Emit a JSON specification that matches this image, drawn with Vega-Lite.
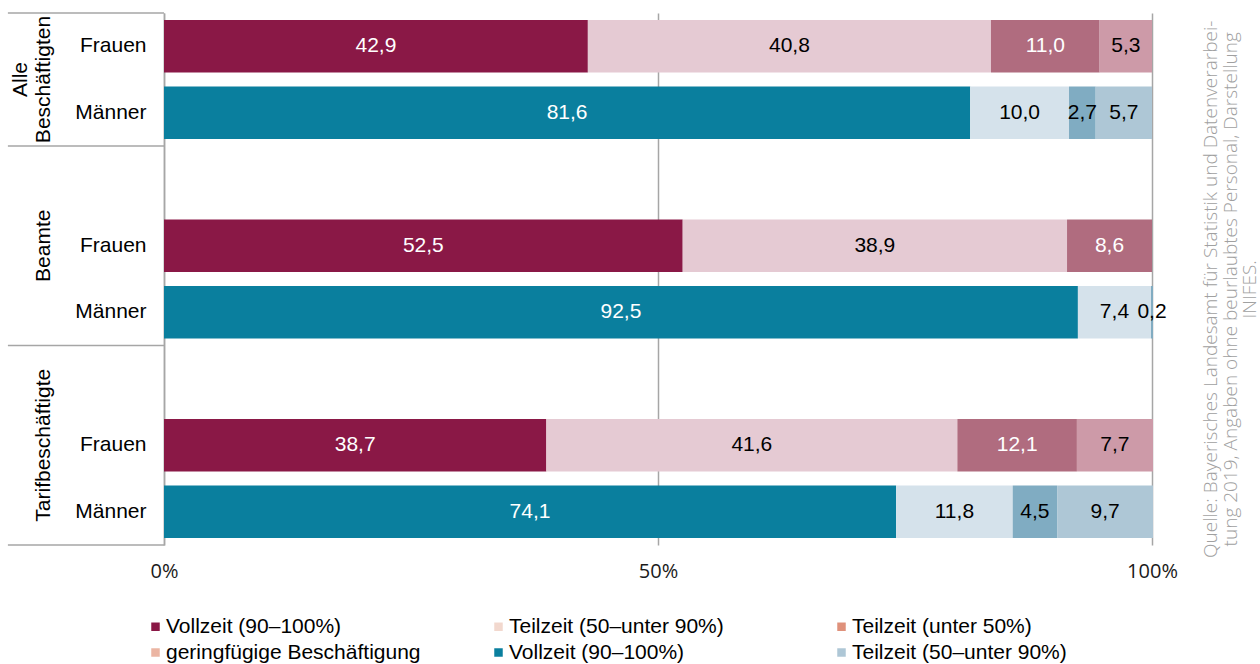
{
  "$schema": "https://vega.github.io/schema/vega-lite/v6.json",
  "width": 988,
  "height": 532,
  "autosize": {"type": "none"},
  "padding": {"left": 164, "top": 13, "right": 108, "bottom": 119},
  "config": {
    "view": {"stroke": null},
    "font": "Liberation Sans",
    "locale": {"number": {"decimal": ",", "thousands": ".", "grouping": [3], "currency": ["", " €"]}}
  },
  "resolve": {"scale": {"y": "independent"}, "axis": {"y": "independent"}},
  "layer": [
    {
      "data": {
        "values": [
          {"row": "A_F", "k": "F1", "value": 42.9},
          {"row": "A_F", "k": "F2", "value": 40.8},
          {"row": "A_F", "k": "F3", "value": 11.0},
          {"row": "A_F", "k": "F4", "value": 5.3},
          {"row": "A_M", "k": "M1", "value": 81.6},
          {"row": "A_M", "k": "M2", "value": 10.0},
          {"row": "A_M", "k": "M3", "value": 2.7},
          {"row": "A_M", "k": "M4", "value": 5.7},
          {"row": "B_F", "k": "F1", "value": 52.5},
          {"row": "B_F", "k": "F2", "value": 38.9},
          {"row": "B_F", "k": "F3", "value": 8.6},
          {"row": "B_M", "k": "M1", "value": 92.5},
          {"row": "B_M", "k": "M2", "value": 7.4},
          {"row": "B_M", "k": "M3", "value": 0.2},
          {"row": "T_F", "k": "F1", "value": 38.7},
          {"row": "T_F", "k": "F2", "value": 41.6},
          {"row": "T_F", "k": "F3", "value": 12.1},
          {"row": "T_F", "k": "F4", "value": 7.7},
          {"row": "T_M", "k": "M1", "value": 74.1},
          {"row": "T_M", "k": "M2", "value": 11.8},
          {"row": "T_M", "k": "M3", "value": 4.5},
          {"row": "T_M", "k": "M4", "value": 9.7}
        ]
      },
      "encoding": {
        "y": {
          "field": "row",
          "type": "nominal",
          "scale": {
            "domain": ["A_F", "A_M", "B_0", "B_F", "B_M", "T_0", "T_F", "T_M"],
            "paddingInner": 0.21,
            "paddingOuter": 0.105
          },
          "axis": {
            "title": null,
            "ticks": false,
            "domain": true,
            "domainColor": "#a6a6a6",
            "domainWidth": 1.5,
            "labelFontSize": 21,
            "labelColor": "#000000",
            "labelPadding": 18,
            "labelExpr": "slice(datum.value, 2) == 'F' ? 'Frauen' : slice(datum.value, 2) == 'M' ? 'Männer' : ''"
          }
        },
        "x": {
          "field": "value",
          "type": "quantitative",
          "stack": "zero",
          "scale": {"domain": [0, 100], "nice": false},
          "axis": {
            "title": null,
            "values": [0, 50, 100],
            "domain": false,
            "ticks": false,
            "grid": true,
            "gridColor": "#a6a6a6",
            "gridWidth": 1.5,
            "labelFont": "Open Sans",
            "labelFontSize": 20,
            "labelColor": "#1a1a1a",
            "labelPadding": 16,
            "labelFlush": false,
            "labelExpr": "datum.value + '%'"
          }
        },
        "order": {"field": "k"}
      },
      "layer": [
        {
          "transform": [{"filter": {"field": "k", "oneOf": ["F1", "F2", "F3", "F4", "M1", "M2"]}}],
          "mark": {"type": "square", "opacity": 1, "size": 64},
          "encoding": {
            "x": {"datum": 50, "type": "quantitative", "scale": {"domain": [0, 100], "nice": false}},
            "fill": {
              "field": "k",
              "type": "nominal",
              "scale": {
                "domain": ["F1", "F2", "F3", "F4", "M1", "M2"],
                "range": ["#8a1846", "#f2d8ce", "#df917b", "#ebb5a3", "#0a7f9e", "#aec7d6"]
              },
              "legend": {
                "title": null,
                "orient": "none",
                "legendX": -19,
                "legendY": 603,
                "direction": "horizontal",
                "columns": 3,
                "gridAlign": "all",
                "columnPadding": 67,
                "rowPadding": 4,
                "padding": 0,
                "symbolType": "square",
                "symbolSize": 72,
                "symbolStrokeWidth": 0,
                "labelFontSize": 21,
                "labelColor": "#000000",
                "labelOffset": 0,
                "labelLimit": 400,
                "labelExpr": "datum.value == 'F1' ? 'Vollzeit (90–100%)' : datum.value == 'F2' ? 'Teilzeit (50–unter 90%)' : datum.value == 'F3' ? 'Teilzeit (unter 50%)' : datum.value == 'F4' ? 'geringfügige Beschäftigung' : datum.value == 'M1' ? 'Vollzeit (90–100%)' : 'Teilzeit (50–unter 90%)'"
              }
            }
          }
        },
        {
          "mark": {"type": "bar"},
          "encoding": {
            "color": {
              "field": "k",
              "type": "nominal",
              "scale": {
                "domain": ["F1", "F2", "F3", "F4", "M1", "M2", "M3", "M4"],
                "range": ["#8a1846", "#e5cad3", "#b06c7f", "#cd9aa8", "#0a7f9e", "#d5e2eb", "#80acc2", "#aec7d6"]
              },
              "legend": null
            }
          }
        },
        {
          "mark": {"type": "text", "fontSize": 21, "align": "center", "baseline": "middle"},
          "encoding": {
            "x": {
              "field": "value",
              "type": "quantitative",
              "stack": "zero",
              "bandPosition": 0.5,
              "scale": {"domain": [0, 100], "nice": false}
            },
            "detail": {"field": "k"},
            "text": {"field": "value", "type": "quantitative", "format": ".1f"},
            "color": {
              "condition": {"test": "datum.k == 'F1' || datum.k == 'F3' || datum.k == 'M1'", "value": "#ffffff"},
              "value": "#000000"
            }
          }
        }
      ]
    },
    {
      "layer": [
        {
          "data": {"values": [{"pos": 0}, {"pos": 2}, {"pos": 5}, {"pos": 8}]},
          "mark": {"type": "rule", "color": "#a6a6a6", "strokeWidth": 1.5},
          "encoding": {
            "y": {"field": "pos", "type": "quantitative", "scale": {"domain": [0, 8], "reverse": true, "nice": false, "zero": false}, "axis": null},
            "x": {"datum": -15.8, "type": "quantitative", "scale": {"domain": [0, 100], "nice": false}},
            "x2": {"datum": 0}
          }
        },
        {
          "data": {
            "values": [
              {"gruppe": "Beamte", "pos": 3.5},
              {"gruppe": "Tarifbeschäftigte", "pos": 6.5}
            ]
          },
          "mark": {"type": "text", "angle": 270, "align": "center", "baseline": "bottom", "fontSize": 21, "color": "#000000"},
          "encoding": {
            "y": {"field": "pos", "type": "quantitative", "scale": {"domain": [0, 8], "reverse": true, "nice": false, "zero": false}, "axis": null},
            "x": {"datum": -11.1, "type": "quantitative", "scale": {"domain": [0, 100], "nice": false}},
            "text": {"field": "gruppe", "type": "nominal"}
          }
        },
        {
          "data": {
            "values": [
              {"gruppe": "Alle\nBeschäftigten", "pos": 1}
            ]
          },
          "mark": {"type": "text", "angle": 270, "align": "center", "baseline": "bottom", "lineBreak": "\n", "lineHeight": 23, "fontSize": 21, "color": "#000000"},
          "encoding": {
            "y": {"field": "pos", "type": "quantitative", "scale": {"domain": [0, 8], "reverse": true, "nice": false, "zero": false}, "axis": null},
            "x": {"datum": -13.45, "type": "quantitative", "scale": {"domain": [0, 100], "nice": false}},
            "text": {"field": "gruppe", "type": "nominal"}
          }
        },
        {
          "data": {
            "values": [
              {"quelle": "Quelle: Bayerisches Landesamt für Statistik und Datenverarbei-\ntung 2019, Angaben ohne beurlaubtes Personal, Darstellung\nINIFES."}
            ]
          },
          "mark": {"type": "text", "angle": 270, "align": "center", "baseline": "middle", "lineBreak": "\n", "lineHeight": 19.5, "fontSize": 19, "font": "Open Sans", "fontWeight": 300, "color": "#a0a0a0"},
          "encoding": {
            "y": {"datum": 4.155, "type": "quantitative", "scale": {"domain": [0, 8], "reverse": true, "nice": false, "zero": false}, "axis": null},
            "x": {"datum": 106.0, "type": "quantitative", "scale": {"domain": [0, 100], "nice": false}},
            "text": {"field": "quelle", "type": "nominal"}
          }
        }
      ]
    }
  ]
}
